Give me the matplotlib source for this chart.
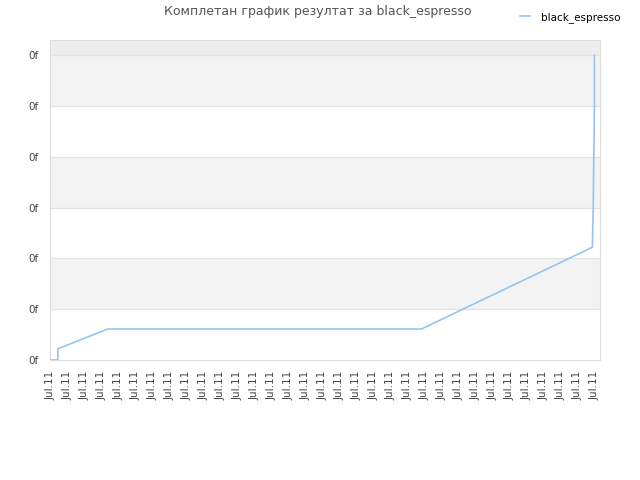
import matplotlib
matplotlib.use("Agg")
import matplotlib.pyplot as plt

# data (x in tick units, y in chart units)
series_name = "black_espresso"
xs = [0.0, 0.41, 0.41, 3.35, 21.8, 31.85, 31.85, 31.9, 31.9, 31.97, 31.97]
ys = [0.0, 0.0, 0.22, 0.61, 0.61, 2.22, 2.22, 3.0, 3.0, 4.95, 6.0]
tick_labels = ["Jul.11"] * 33
ytick_labels = ["0f"] * 7

fig = plt.figure(figsize=(6.4, 4.8), dpi=100)
ax = fig.add_axes([50/640, 120/480, 550/640, 320/480])

ax.set_xlim(-0.05, 32.3)
ax.set_ylim(0, 6.3)

# alternating bands
for lo, hi in [(1, 2), (3, 4), (5, 6)]:
    ax.axhspan(lo, hi, color="#f3f3f3", zorder=0, lw=0)
ax.axhspan(6, 6.3, color="#ededed", zorder=0, lw=0)
for y in range(1, 7):
    ax.axhline(y, color="#e2e2e2", lw=0.9, zorder=1)

ax.plot(xs, ys, color="#95c4f2", lw=1.2, zorder=3, label=series_name)

ax.set_xticks(range(len(tick_labels)))
ax.set_xticklabels(tick_labels, rotation=90, fontsize=7.5, color="#444444")
ax.set_yticks(range(len(ytick_labels)))
ax.set_yticklabels(ytick_labels, fontsize=7.5, color="#444444")
ax.tick_params(length=0, pad=8)

for s in ax.spines.values():
    s.set_color("#dddddd")

fig.text(318/640, 1 - 12/480, "Комплетан график резултат за black_espresso",
         ha="center", va="center", fontsize=9, color="#555555")
fig.legend(loc="upper right", bbox_to_anchor=(0.984, 0.995), frameon=False,
           fontsize=7.5, handlelength=1.0, handletextpad=1.0)

fig.savefig("out.png", dpi=100)
